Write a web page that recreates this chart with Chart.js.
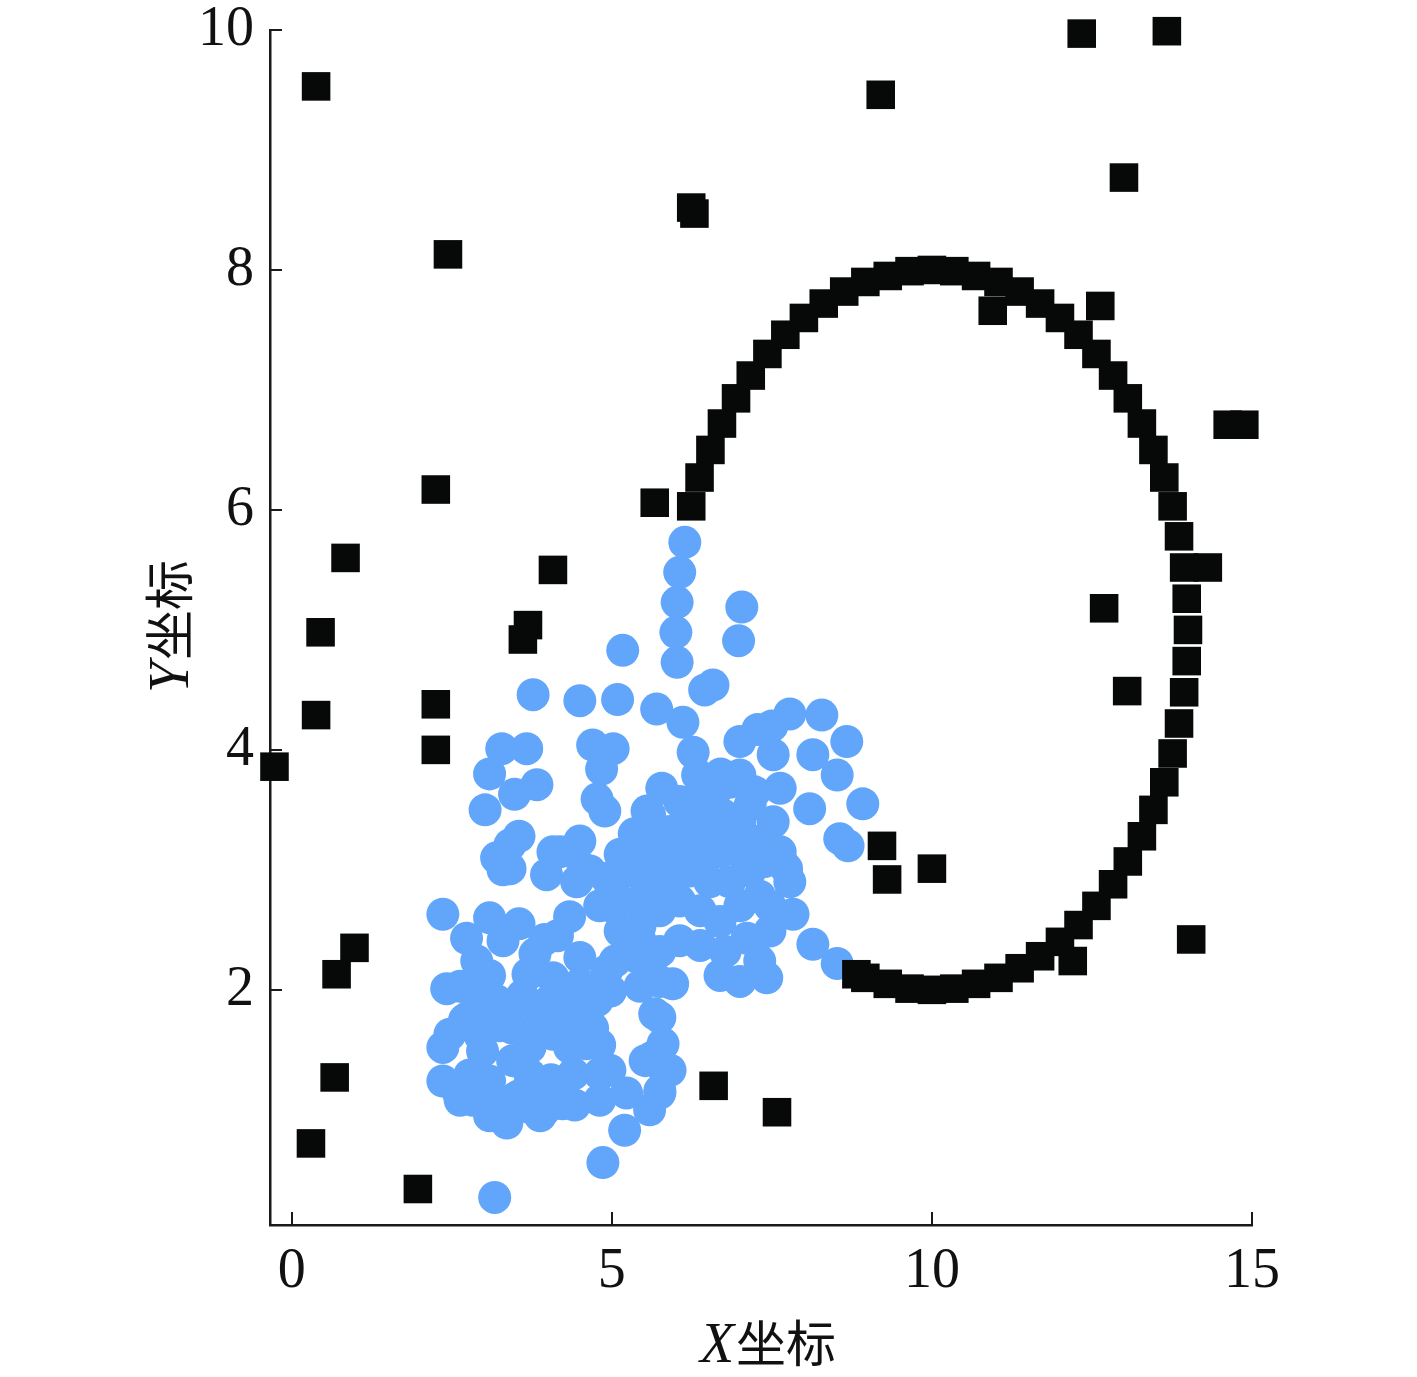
<!DOCTYPE html>
<html>
<head>
<meta charset="utf-8">
<script src="https://cdn.jsdelivr.net/npm/chart.js@4.4.1/dist/chart.umd.min.js"></script>
<style>
  html, body { margin: 0; padding: 0; background: #fff; }
  #chart { display: block; }
</style>
</head>
<body>
<canvas id="chart" width="1417" height="1377"></canvas>
<script>
// tick values
const xTicks = [0, 5, 10, 15];
const yTicks = [2, 4, 6, 8, 10];

// blue cluster (x, y)
const clusterPts = [
    [6.14, 5.73], [6.06, 5.48], [6.02, 5.23], [6.00, 4.98], [6.02, 4.73], [6.58, 4.54], [6.45, 4.50],
    [7.03, 5.19], [6.98, 4.91], [5.70, 4.34], [6.11, 4.23], [6.27, 3.98], [6.34, 3.79], [7.00, 4.07],
    [7.28, 4.17], [7.50, 4.20], [7.78, 4.30], [8.28, 4.29], [8.67, 4.07], [8.14, 3.96], [8.52, 3.79],
    [8.92, 3.55], [8.09, 3.51], [8.56, 3.26], [8.69, 3.20], [7.52, 3.96], [7.63, 3.68], [7.00, 3.79],
    [6.70, 3.80], [5.78, 3.68], [5.59, 3.46], [6.22, 3.40], [6.73, 3.46], [7.16, 3.54], [7.52, 3.40],
    [6.48, 3.15], [7.00, 3.15], [7.67, 3.05], [5.95, 3.13],
    [5.17, 4.83], [3.77, 4.46], [4.50, 4.41], [5.09, 4.42], [3.28, 4.01], [3.67, 4.01], [3.09, 3.80],
    [3.83, 3.71], [3.02, 3.50], [3.48, 3.63], [4.70, 4.04], [5.02, 4.01], [4.84, 3.84], [4.77, 3.59],
    [4.89, 3.49], [5.55, 3.49], [3.41, 3.21], [3.55, 3.28], [3.20, 3.10], [3.30, 3.00], [4.08, 3.15],
    [4.55, 3.01], [5.13, 3.13], [5.39, 3.15], [5.35, 3.30],
    [3.41, 3.01], [3.98, 2.96], [4.45, 2.90], [4.92, 2.93], [2.36, 2.63], [3.09, 2.60], [3.30, 2.41],
    [2.73, 2.43], [4.34, 2.61], [3.95, 2.42], [3.69, 2.13], [2.42, 2.01], [2.89, 2.24], [3.20, 1.91],
    [2.47, 1.63], [2.36, 1.52], [2.98, 1.49], [3.45, 1.68], [3.72, 1.52], [4.08, 1.63], [4.34, 1.52],
    [4.70, 1.68], [2.36, 1.24], [2.83, 1.08], [3.36, 0.89], [3.72, 1.02], [4.23, 1.05], [4.81, 1.30],
    [5.23, 1.14], [5.20, 0.83], [4.86, 0.56], [3.17, 0.27], [5.75, 1.14], [5.64, 1.44], [4.34, 1.77],
    [4.77, 1.91], [5.67, 1.80], [4.92, 2.16], [4.50, 2.27], [4.08, 2.10], [3.09, 1.85], [3.45, 1.41],
    [3.77, 1.14], [2.78, 1.29], [2.60, 1.15], [3.00, 1.20], [3.20, 1.05], [3.50, 1.10], [3.95, 1.00],
    [4.05, 1.25], [4.40, 1.30], [4.60, 1.55], [3.90, 1.80], [3.60, 1.95], [3.30, 1.75], [2.70, 1.75],
    [2.90, 1.95], [4.20, 1.90], [4.50, 2.05], [3.80, 2.30], [4.15, 2.45], [3.55, 2.55],
    [2.63, 2.03], [3.09, 2.12], [3.56, 1.91], [4.03, 1.91], [4.50, 1.91], [2.78, 1.78], [3.25, 1.70],
    [3.88, 1.74], [4.34, 1.66], [4.81, 1.54], [2.94, 1.62], [3.72, 1.29], [3.09, 1.24], [3.56, 1.12],
    [4.42, 1.04], [4.81, 1.08], [2.63, 1.08], [3.09, 0.95], [3.88, 0.95], [5.52, 1.41], [5.91, 1.33],
    [5.59, 1.00], [4.97, 1.33],
    [7.73, 3.01], [7.83, 2.63], [8.14, 2.38], [8.52, 2.22], [7.42, 2.10], [7.00, 2.07], [7.11, 2.43],
    [5.95, 2.05], [5.75, 1.77], [5.80, 1.55], [5.80, 1.35], [5.75, 1.16], [7.47, 2.70],
    [5.28, 2.99], [5.59, 3.07], [5.91, 2.90], [6.22, 2.99], [6.53, 2.90], [6.84, 2.90], [7.16, 2.99],
    [7.39, 3.07], [5.44, 2.74], [5.75, 2.66], [6.06, 2.74], [6.38, 2.66], [6.69, 2.57], [7.00, 2.70],
    [7.31, 2.78], [5.13, 2.49], [5.44, 2.41], [5.75, 2.32], [6.06, 2.41], [6.38, 2.37], [6.77, 2.32],
    [6.22, 3.15], [6.53, 3.28], [6.84, 3.32], [7.31, 3.24], [5.44, 2.03], [4.98, 1.99], [4.97, 2.70],
    [5.59, 2.20], [5.36, 2.28], [6.38, 3.57], [6.61, 3.65], [6.84, 3.73], [7.23, 3.65], [5.91, 3.32],
    [5.67, 3.20],
    [6.06, 3.57], [6.38, 3.40], [7.00, 3.40], [6.06, 3.32], [6.69, 3.15], [5.67, 2.86], [5.13, 2.74],
    [4.81, 2.70], [5.05, 2.24], [5.44, 2.53], [4.81, 2.03], [5.75, 2.07], [6.69, 2.12], [7.63, 3.15],
    [7.78, 2.90], [7.47, 2.49], [7.31, 2.24], [4.66, 2.99], [4.19, 3.15], [4.50, 3.24]
];

// black squares along the ring
const ringPts = [
    [6.24, 6.03], [6.37, 6.27], [6.54, 6.50], [6.72, 6.72], [6.94, 6.93], [7.17, 7.12], [7.43, 7.30],
    [7.71, 7.46], [8.00, 7.60], [8.31, 7.72], [8.63, 7.82], [8.96, 7.90], [9.31, 7.95], [9.65, 7.99],
    [10.00, 8.00], [10.35, 7.99], [10.69, 7.95], [11.04, 7.90], [11.37, 7.82], [11.69, 7.72], [12.00, 7.60],
    [12.29, 7.46], [12.57, 7.30], [12.83, 7.12], [13.06, 6.93], [13.28, 6.72], [13.46, 6.50], [13.63, 6.27],
    [13.76, 6.03], [13.86, 5.78], [13.94, 5.52], [13.98, 5.26], [14.00, 5.00], [13.98, 4.74], [13.94, 4.48],
    [13.86, 4.22], [13.76, 3.97], [13.63, 3.73], [13.46, 3.50], [13.28, 3.28], [13.06, 3.07], [12.83, 2.88],
    [12.57, 2.70], [12.29, 2.54], [12.00, 2.40], [11.69, 2.28], [11.37, 2.18], [11.04, 2.10], [10.69, 2.05],
    [10.35, 2.01], [10.00, 2.00], [9.65, 2.01], [9.31, 2.05], [8.96, 2.10], [8.82, 2.13]
];

// scattered black squares
const noisePts = [
    [0.38, 9.53], [2.44, 8.13], [6.24, 8.52], [6.29, 8.47], [9.20, 9.46], [12.34, 9.97], [13.67, 9.99],
    [13.00, 8.77], [10.95, 7.66], [12.63, 7.70], [14.62, 6.71], [14.88, 6.71], [14.31, 5.52], [12.69, 5.18],
    [13.05, 4.49], [14.05, 2.42], [12.20, 2.24], [9.22, 3.20], [9.30, 2.92], [10.00, 3.01], [5.67, 6.06],
    [2.25, 6.17], [0.84, 5.60], [0.45, 4.98], [0.38, 4.29], [4.08, 5.50], [3.69, 5.04], [3.61, 4.92],
    [2.25, 4.38], [2.25, 4.00], [-0.27, 3.86], [0.98, 2.35], [0.70, 2.13], [0.67, 1.27], [0.30, 0.72],
    [1.97, 0.34], [6.59, 1.20], [7.58, 0.98]
];

const BLUE = '#61a6fa';
const BLACK = '#070909';
const AXIS = '#1a1a1a';
const toXY = (pts) => pts.map(([x, y]) => ({ x, y }));

// draw inward tick marks
const innerTicks = {
    id: 'innerTicks',
    afterDraw(chart) {
        const { ctx, chartArea: a, scales } = chart;
        ctx.save();
        ctx.strokeStyle = AXIS;
        ctx.lineWidth = 2;
        ctx.beginPath();
        xTicks.forEach(v => {
            const px = Math.round(scales.x.getPixelForValue(v));
            ctx.moveTo(px, a.bottom);
            ctx.lineTo(px, a.bottom - 13);
        });
        yTicks.forEach(v => {
            const py = Math.round(scales.y.getPixelForValue(v));
            ctx.moveTo(a.left, py);
            ctx.lineTo(a.left + 12, py);
        });
        ctx.stroke();
        ctx.restore();
    }
};

// axis titles with italic latin letter + CJK
function drawTitle(ctx, latin, cjk, cx, cy, rot) {
    const latinFont = 'italic 56px "Liberation Serif", "DejaVu Serif", serif';
    const cjkFont = '50px "Noto Sans CJK SC", sans-serif';
    ctx.save();
    ctx.translate(cx, cy);
    ctx.rotate(rot);
    ctx.font = latinFont;
    const w1 = ctx.measureText(latin).width;
    ctx.font = cjkFont;
    const w2 = ctx.measureText(cjk).width;
    const x0 = -(w1 + w2) / 2;
    ctx.fillStyle = '#111';
    ctx.textBaseline = 'alphabetic';
    ctx.textAlign = 'left';
    ctx.font = latinFont;
    ctx.fillText(latin, x0, 0);
    ctx.font = cjkFont;
    ctx.fillText(cjk, x0 + w1 + 2, 0);
    ctx.restore();
}

const axisTitles = {
    id: 'axisTitles',
    afterDraw(chart) {
        const { ctx, chartArea: a } = chart;
        drawTitle(ctx, 'X', '坐标', (a.left + a.right) / 2 + 6, 1362, 0);
        drawTitle(ctx, 'Y', '坐标', 188, (a.top + a.bottom) / 2, -Math.PI / 2);
    }
};

const tickFont = { family: '"Liberation Serif", "DejaVu Serif", serif', size: 56 };

new Chart(document.getElementById('chart'), {
    type: 'scatter',
    data: {
        datasets: [
            {
                label: 'ring',
                data: toXY(ringPts),
                pointStyle: 'rect',
                pointRadius: 20.2,
                backgroundColor: BLACK,
                borderWidth: 0,
                order: 0,
                clip: false
            },
            {
                label: 'noise',
                data: toXY(noisePts),
                pointStyle: 'rect',
                pointRadius: 20.2,
                backgroundColor: BLACK,
                borderWidth: 0,
                order: 0,
                clip: false
            },
            {
                label: 'cluster',
                data: toXY(clusterPts),
                pointStyle: 'circle',
                pointRadius: 16.5,
                backgroundColor: BLUE,
                borderWidth: 0,
                order: 1,
                clip: false
            }
        ]
    },
    options: {
        responsive: false,
        animation: false,
        events: [],
        layout: { padding: { left: 0, top: 30, right: 165, bottom: 0 } },
        plugins: {
            legend: { display: false },
            tooltip: { enabled: false }
        },
        scales: {
            x: {
                type: 'linear',
                position: 'bottom',
                min: -0.34,
                max: 15,
                grid: { display: false, drawTicks: false },
                border: { display: true, color: AXIS, width: 2.5 },
                ticks: { font: tickFont, color: '#111', padding: 14, maxRotation: 0 },
                afterBuildTicks: (s) => { s.ticks = xTicks.map(v => ({ value: v })); },
                afterFit: (s) => { s.height = 152; s.paddingLeft = 0; s.paddingRight = 0; }
            },
            y: {
                type: 'linear',
                position: 'left',
                min: 0.04,
                max: 10,
                grid: { display: false, drawTicks: false },
                border: { display: true, color: AXIS, width: 2.5 },
                ticks: { font: tickFont, color: '#111', padding: 16 },
                afterBuildTicks: (s) => { s.ticks = yTicks.map(v => ({ value: v })); },
                afterFit: (s) => { s.width = 270; s.paddingTop = 0; s.paddingBottom = 0; }
            }
        }
    },
    plugins: [innerTicks, axisTitles]
});
</script>
</body>
</html>
